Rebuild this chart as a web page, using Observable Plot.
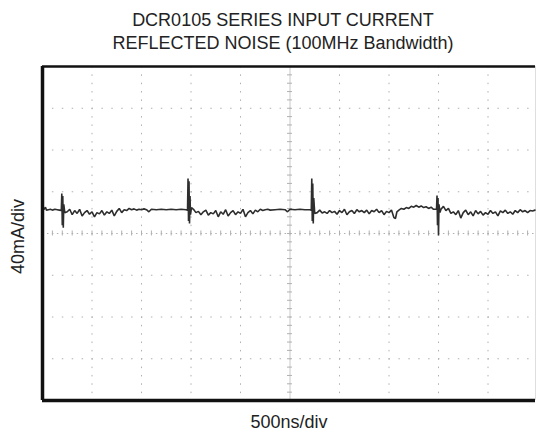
<!DOCTYPE html>
<html>
<head>
<meta charset="utf-8">
<script src="https://cdn.jsdelivr.net/npm/d3@7"></script>
<script src="https://cdn.jsdelivr.net/npm/@observablehq/plot@0.6"></script>
<style>
  body { margin: 0; background: #fff; font-family: "Liberation Sans", Arial, sans-serif; }
  #title { width: 536px; height: 55px; box-sizing: border-box; padding: 9px 0 0 30px;
           text-align: center; font-size: 18px; line-height: 23px; color: #222; }
</style>
</head>
<body>
<div id="title"></div>
<div id="chart"></div>
<script>
// ---- text ----
const titleLines = ["DCR0105 SERIES INPUT CURRENT", "REFLECTED NOISE (100MHz Bandwidth)"];
const xLabel = "500ns/div";
const yLabel = "40mA/div";

// ---- graticule (in divisions) ----
const xDomain = [0, 10];
const yDomain = [-4, 4];
const gridX = [1, 2, 3, 4, 6, 7, 8, 9];
const gridY = [-3, -2, -1, 1, 2, 3];
const centerX = [5];
const centerY = [0];

// ---- trace: [time (div), current (div)] ----
const trace = [
  [0.00,0.57],[0.03,0.58],[0.06,0.63],[0.08,0.56],[0.12,0.57],[0.16,0.58],[0.20,0.56],[0.25,0.58],
  [0.30,0.57],[0.34,0.56],[0.38,0.55],
  [0.39,0.96],[0.40,0.20],[0.41,0.90],[0.42,0.14],[0.43,0.70],[0.45,0.50],
  [0.50,0.52],[0.55,0.58],[0.60,0.45],[0.65,0.55],[0.70,0.48],[0.75,0.58],[0.80,0.42],[0.85,0.50],
  [0.90,0.55],[0.95,0.46],[1.00,0.52],[1.05,0.40],[1.10,0.50],[1.15,0.47],[1.20,0.55],[1.25,0.44],
  [1.30,0.52],[1.35,0.48],[1.40,0.56],[1.45,0.42],[1.50,0.53],[1.55,0.60],[1.60,0.50],[1.65,0.57],
  [1.70,0.55],[1.75,0.60],[1.80,0.57],[1.85,0.59],[1.90,0.56],[1.95,0.58],[2.00,0.57],[2.05,0.59],
  [2.10,0.57],[2.15,0.52],[2.20,0.58],[2.30,0.57],[2.40,0.58],[2.50,0.57],[2.60,0.58],[2.70,0.57],
  [2.80,0.58],[2.90,0.57],[2.93,0.56],
  [2.94,1.32],[2.95,0.30],[2.96,1.25],[2.97,0.24],[2.98,0.90],[2.99,0.45],[3.01,0.62],
  [3.05,0.58],[3.10,0.50],[3.15,0.53],[3.20,0.45],[3.25,0.52],[3.30,0.56],[3.35,0.44],[3.40,0.50],
  [3.45,0.47],[3.50,0.55],[3.55,0.40],[3.60,0.52],[3.65,0.46],[3.70,0.57],[3.75,0.42],[3.80,0.50],
  [3.85,0.55],[3.90,0.45],[3.95,0.52],[4.00,0.48],[4.05,0.58],[4.10,0.40],[4.15,0.50],[4.20,0.55],
  [4.25,0.47],[4.30,0.56],[4.35,0.52],[4.40,0.58],[4.45,0.55],[4.50,0.57],[4.55,0.58],[4.60,0.56],
  [4.70,0.57],[4.80,0.58],[4.90,0.57],[4.95,0.52],[5.00,0.58],[5.10,0.57],[5.20,0.58],[5.30,0.57],
  [5.40,0.57],[5.43,0.56],
  [5.44,1.32],[5.45,0.30],[5.46,1.20],[5.47,0.24],[5.48,0.85],[5.50,0.48],
  [5.55,0.50],[5.60,0.56],[5.65,0.49],[5.70,0.52],[5.75,0.48],[5.80,0.55],[5.85,0.50],[5.90,0.53],
  [5.95,0.46],[6.00,0.55],[6.05,0.50],[6.10,0.58],[6.15,0.45],[6.20,0.52],[6.25,0.55],[6.30,0.48],
  [6.35,0.57],[6.40,0.52],[6.45,0.55],[6.50,0.50],[6.55,0.56],[6.60,0.47],[6.65,0.55],[6.70,0.52],
  [6.75,0.58],[6.80,0.50],[6.85,0.55],[6.90,0.45],[6.95,0.53],[7.00,0.50],[7.05,0.56],[7.10,0.38],
  [7.13,0.36],[7.16,0.52],[7.20,0.56],[7.25,0.60],[7.30,0.58],[7.35,0.62],[7.40,0.60],[7.45,0.65],
  [7.50,0.63],[7.55,0.67],[7.60,0.63],[7.65,0.66],[7.70,0.62],[7.75,0.64],[7.80,0.60],[7.85,0.63],
  [7.90,0.58],[7.96,0.58],
  [7.97,0.91],[7.98,0.20],[7.99,0.85],[8.00,-0.05],[8.01,0.70],[8.03,0.50],
  [8.05,0.58],[8.10,0.65],[8.15,0.55],[8.20,0.60],[8.25,0.48],[8.30,0.52],[8.35,0.45],[8.40,0.55],
  [8.45,0.37],[8.50,0.50],[8.55,0.56],[8.60,0.45],[8.65,0.52],[8.70,0.42],[8.75,0.55],[8.80,0.47],
  [8.85,0.53],[8.90,0.44],[8.95,0.50],[9.00,0.46],[9.05,0.55],[9.10,0.48],[9.15,0.52],[9.20,0.42],
  [9.25,0.54],[9.30,0.50],[9.35,0.56],[9.40,0.48],[9.45,0.52],[9.50,0.46],[9.55,0.55],[9.60,0.50],
  [9.65,0.57],[9.70,0.52],[9.75,0.55],[9.80,0.50],[9.85,0.55],[9.90,0.54],[9.95,0.56],[10.00,0.55]
];

document.getElementById("title").innerHTML = titleLines.join("<br>");

// minor tick positions on the centre lines (every 1/5 division)
const minorX = d3.range(0, 10.001, 0.2).map(v => +v.toFixed(2));
const minorY = d3.range(-4, 4.001, 0.2).map(v => +v.toFixed(2));

const grid = "#b0b0b0";
const chart = Plot.plot({
  width: 536,
  height: 384,
  marginLeft: 42,
  marginRight: 1,
  marginTop: 11,
  marginBottom: 39,
  x: {domain: xDomain, range: [42, 537], axis: null},
  y: {domain: yDomain, axis: null},
  style: {fontFamily: "Liberation Sans, Arial, sans-serif", background: "white", color: "#222", overflow: "visible"},
  marks: [
    // dotted graticule
    Plot.ruleY(gridY, {stroke: grid, strokeWidth: 1, strokeDasharray: "1.5 8.4"}),
    Plot.ruleX(gridX, {stroke: grid, strokeWidth: 1, strokeDasharray: "1.5 6.85"}),
    // centre lines
    Plot.ruleX(centerX, {stroke: "#c8c8c8", strokeWidth: 1}),
    Plot.ruleY(centerY, {stroke: grid, strokeWidth: 1, strokeDasharray: "1.5 3.45"}),
    Plot.ruleY(minorY, {y: d => d, x1: () => centerX[0] - 0.05, x2: () => centerX[0] + 0.05, stroke: grid, strokeWidth: 1}),
    Plot.ruleX(minorX, {x: d => d, y1: () => centerY[0] - 0.06, y2: () => centerY[0] + 0.06, stroke: grid, strokeWidth: 1}),
    // trace
    Plot.line(trace, {x: d => d[0], y: d => d[1], stroke: "#2e2e2e", strokeWidth: 1.6, strokeLinejoin: "miter"}),
    // screen border
    Plot.ruleX([xDomain[1]], {stroke: "#bdbdbd", strokeWidth: 4}),
    Plot.ruleY([yDomain[1]], {stroke: "#111", strokeWidth: 2.5}),
    Plot.ruleY([yDomain[0]], {stroke: "#111", strokeWidth: 3.5}),
    Plot.ruleX([xDomain[0]], {stroke: "#111", strokeWidth: 3.5}),
    // labels
    Plot.text([xLabel], {text: d => d, frameAnchor: "bottom", dy: 27, fontSize: 18, fill: "#222"}),
    Plot.text([yLabel], {text: d => d, frameAnchor: "left", textAnchor: "middle", dx: -24, dy: 3, rotate: -90, fontSize: 18, fill: "#222"})
  ]
});
document.getElementById("chart").appendChild(chart);
</script>
</body>
</html>
